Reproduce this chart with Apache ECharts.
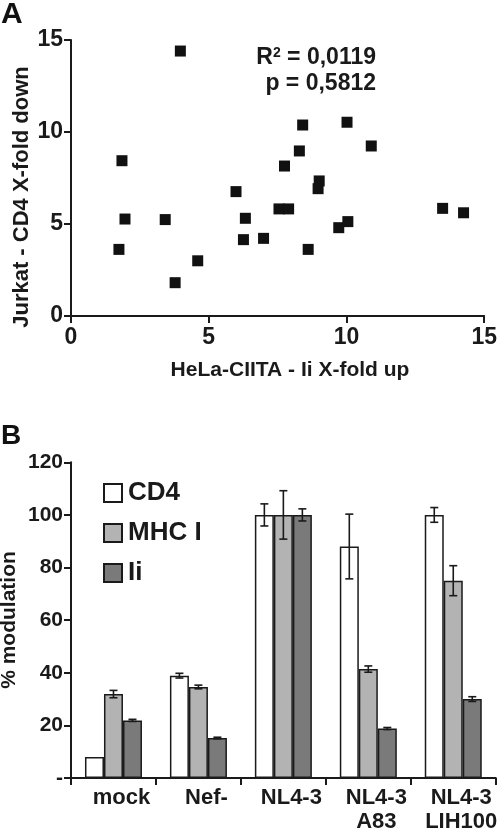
<!DOCTYPE html>
<html>
<head>
<meta charset="utf-8">
<script src="https://cdn.jsdelivr.net/npm/echarts@6/dist/echarts.min.js"></script>
<style>
html,body{margin:0;padding:0;background:#fff;}
#c{width:500px;height:834px;}
</style>
</head>
<body>
<div id="c"></div>
<script>
// ---- Panel A data (scatter) ----
const helaIiUp = [3.97, 1.85, 8.41, 10.02, 10.9, 8.29, 7.75, 9.01, 8.97, 5.99, 1.96, 1.74, 3.42, 3.78, 4.6, 6.33, 6.26, 6.99, 7.55, 7.9, 8.61, 9.72, 10.05, 13.49, 14.25];
const jurkatCD4Down = [14.4, 8.44, 10.38, 10.53, 9.24, 8.97, 8.15, 7.34, 6.92, 6.76, 5.27, 3.62, 5.24, 1.81, 3.0, 5.31, 4.15, 4.22, 5.82, 5.82, 3.62, 4.8, 5.13, 5.85, 5.61];

// ---- Panel B data (bars) ----
const categories = ['mock', 'Nef-', 'NL4-3', 'NL4-3\nA83', 'NL4-3\nLIH100'];
const seriesNames = ['CD4', 'MHC I', 'Ii'];
const cd4 = [8, 38.9, 100, 88, 100];
const cd4Err = [0, 0.9, 4.2, 12.3, 2.8];
const mhcI = [31.9, 34.6, 100, 41.4, 75];
const mhcIErr = [1.4, 0.7, 9.2, 1.2, 5.7];
const ii = [21.9, 15.2, 100, 18.8, 30];
const iiErr = [0.4, 0.3, 2.3, 0.4, 0.9];

const FONT = "'Liberation Sans', Arial, sans-serif";
const INK = '#1a1a1a';
const BAR_W = 19;
const fills = ['#ffffff', '#b3b3b3', '#7a7a7a'];

const chart = echarts.init(document.getElementById('c'), null, {renderer: 'canvas'});

function errSeries(name, vals, errs, idx) {
  return {
    type: 'custom',
    name: name + ' err',
    xAxisIndex: 1, yAxisIndex: 1,
    z: 5,
    silent: true,
    data: vals.map((v, i) => [i, v, errs[i]]),
    renderItem: function (params, api) {
      const e = api.value(2);
      if (!e) return null;
      const c = api.value(0), v = api.value(1);
      const top = api.coord([c, v + e]);
      const bot = api.coord([c, v - e]);
      const x = top[0] + (idx - 1) * BAR_W;
      const cap = 4;
      const st = {stroke: INK, lineWidth: 1.6};
      return {
        type: 'group',
        children: [
          {type: 'line', shape: {x1: x, y1: top[1], x2: x, y2: bot[1]}, style: st},
          {type: 'line', shape: {x1: x - cap, y1: top[1], x2: x + cap, y2: top[1]}, style: st},
          {type: 'line', shape: {x1: x - cap, y1: bot[1], x2: x + cap, y2: bot[1]}, style: st}
        ]
      };
    }
  };
}

const axisCommon = {
  axisLine: {show: true, onZero: false, lineStyle: {color: INK, width: 2}},
  axisTick: {show: true, length: 7, lineStyle: {color: INK, width: 2}},
  splitLine: {show: false}
};

const option = {
  backgroundColor: '#fff',
  animation: false,
  textStyle: {fontFamily: FONT},
  grid: [
    {left: 71, right: 15, top: 40, height: 276},
    {left: 71, right: 1, top: 462.3, height: 324.4}
  ],
  xAxis: [
    Object.assign({}, axisCommon, {
      gridIndex: 0, type: 'value', min: 0, max: 15, interval: 5,
      axisLabel: {fontFamily: FONT, fontWeight: 'bold', fontSize: 23, color: INK, margin: 10}
    }),
    Object.assign({}, axisCommon, {
      gridIndex: 1, type: 'category', data: categories,
      axisTick: {show: true, length: 7, alignWithLabel: false, lineStyle: {color: INK, width: 2}},
      axisLabel: {fontFamily: FONT, fontWeight: 'bold', fontSize: 22, color: INK, margin: 8,
        lineHeight: 24, interval: 0, padding: [0, 0, 0, 16]}
    })
  ],
  yAxis: [
    Object.assign({}, axisCommon, {
      gridIndex: 0, type: 'value', min: 0, max: 15, interval: 5,
      axisLabel: {fontFamily: FONT, fontWeight: 'bold', fontSize: 23, color: INK, margin: 8}
    }),
    Object.assign({}, axisCommon, {
      gridIndex: 1, type: 'value', min: 0, max: 120, interval: 20,
      axisLabel: {fontFamily: FONT, fontWeight: 'bold', fontSize: 21, color: INK, margin: 8,
        formatter: v => (v === 0 ? '-' : String(v))}
    })
  ],
  legend: {
    data: seriesNames,
    orient: 'vertical',
    left: 98, top: 475,
    itemWidth: 18, itemHeight: 18,
    itemGap: 14,
    icon: 'rect',
    textStyle: {fontFamily: FONT, fontWeight: 'bold', fontSize: 26, color: INK, lineHeight: 25, padding: [0, 0, 0, 1]},
    selectedMode: false
  },
  series: [
    {
      type: 'scatter', xAxisIndex: 0, yAxisIndex: 0,
      symbol: 'rect', symbolSize: 11,
      itemStyle: {color: '#111111', opacity: 1},
      data: helaIiUp.map((x, i) => [x, jurkatCD4Down[i]])
    },
    {
      type: 'bar', name: 'CD4', xAxisIndex: 1, yAxisIndex: 1, data: cd4,
      barWidth: BAR_W, barGap: '0%',
      itemStyle: {color: fills[0], borderColor: INK, borderWidth: 1.5}
    },
    {
      type: 'bar', name: 'MHC I', xAxisIndex: 1, yAxisIndex: 1, data: mhcI,
      barWidth: BAR_W, barGap: '0%',
      itemStyle: {color: fills[1], borderColor: INK, borderWidth: 1.5}
    },
    {
      type: 'bar', name: 'Ii', xAxisIndex: 1, yAxisIndex: 1, data: ii,
      barWidth: BAR_W, barGap: '0%',
      itemStyle: {color: fills[2], borderColor: INK, borderWidth: 1.5}
    },
    errSeries('CD4', cd4, cd4Err, 0),
    errSeries('MHC I', mhcI, mhcIErr, 1),
    errSeries('Ii', ii, iiErr, 2)
  ],
  graphic: [
    {type: 'text', left: 1, top: 0, style: {text: 'A', font: "bold 30px " + FONT, fill: '#111'}},
    {type: 'text', left: 1, top: 422, style: {text: 'B', font: "bold 28px " + FONT, fill: '#111'}},
    {type: 'text', x: 376, y: 58, style: {
      text: '{a|R}{s|2}{a| = 0,0119}', align: 'right', verticalAlign: 'middle',
      rich: {a: {font: "bold 23px " + FONT, fill: INK}, s: {font: "bold 14px " + FONT, fill: INK, verticalAlign: 'top', padding: [0, 0, 10, 0]}}
    }},
    {type: 'text', x: 376, y: 84, style: {
      text: 'p = 0,5812', align: 'right', verticalAlign: 'middle', font: "bold 23px " + FONT, fill: INK
    }},
    {type: 'text', x: 290, y: 370, style: {
      text: 'HeLa-CIITA - Ii X-fold up', align: 'center', verticalAlign: 'middle', font: "bold 21px " + FONT, fill: INK
    }},
    {type: 'text', x: 22, y: 197, rotation: Math.PI / 2, style: {
      text: 'Jurkat - CD4 X-fold down', align: 'center', verticalAlign: 'middle', font: "bold 22px " + FONT, fill: INK
    }},
    {type: 'text', x: 9, y: 620, rotation: Math.PI / 2, style: {
      text: '% modulation', align: 'center', verticalAlign: 'middle', font: "bold 21px " + FONT, fill: INK
    }}
  ]
};
chart.setOption(option);
</script>
</body>
</html>
